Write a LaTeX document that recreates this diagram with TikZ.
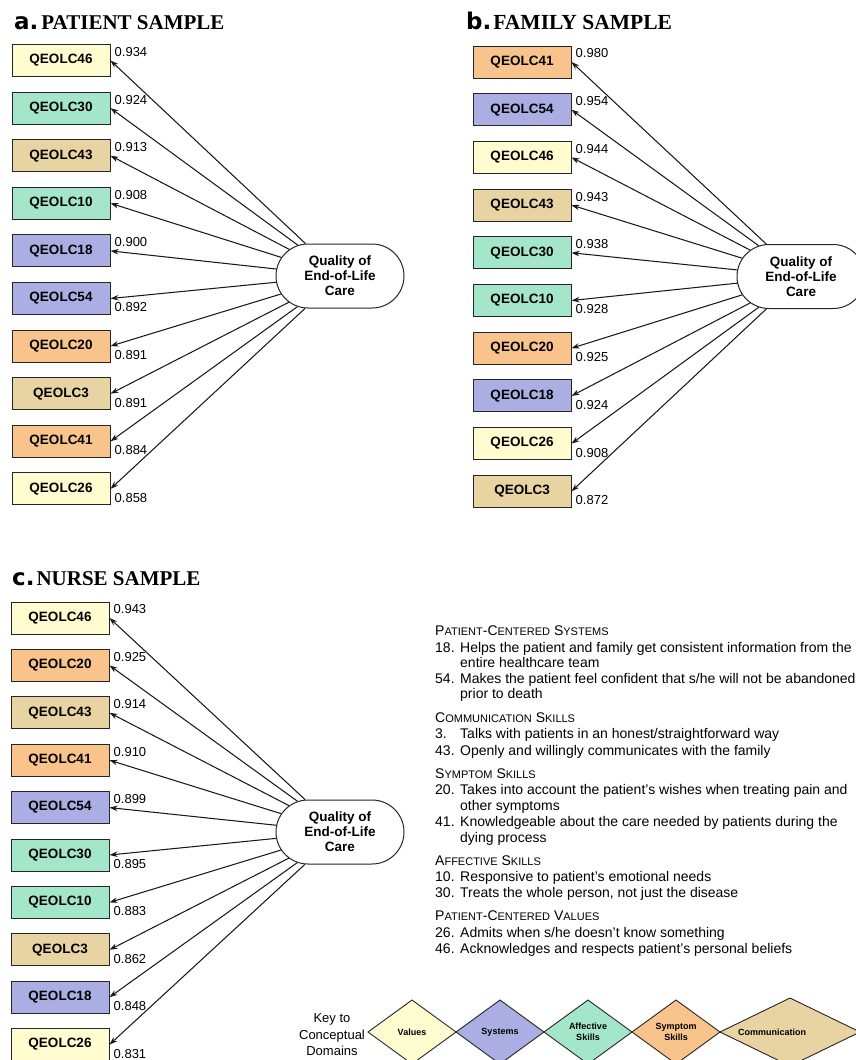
\documentclass[tikz,border=0pt]{standalone}
\usepackage{fontspec}
\setmainfont{Liberation Sans}
\newfontfamily\serifT{Liberation Serif}
\newfontfamily\sansT{DejaVu Sans}
\usetikzlibrary{shapes.misc,arrows.meta,calc}
\definecolor{valcol}{RGB}{255,252,208}
\definecolor{syscol}{RGB}{170,174,226}
\definecolor{affcol}{RGB}{164,230,202}
\definecolor{symcol}{RGB}{248,196,140}
\definecolor{comcol}{RGB}{232,212,162}
\newcommand\smcap[1]{{\fontsize{11}{12}\selectfont #1}}
\begin{document}
\begin{tikzpicture}[x=1pt,y=-1pt,
  itembox/.style={draw=black!85, line width=1pt, minimum width=98pt, minimum height=32pt, inner sep=0pt, font=\bfseries\fontsize{13.5}{15}\selectfont},
  latent/.style={draw=black!85, line width=1pt, rounded rectangle, minimum width=128pt, minimum height=64pt, inner sep=0pt, align=center, font=\bfseries\fontsize{13.5}{15}\selectfont, fill=white},
  arr/.style={line width=1.05pt, draw=black!90, -{Stealth[length=8pt,width=5.5pt]}},
  val/.style={font=\fontsize{13}{15}\selectfont, inner sep=0pt, anchor=west},
  leg/.style={font=\fontsize{14}{16}\selectfont, inner sep=0pt, anchor=base west},
  ttl/.style={inner sep=0pt, anchor=base west},
  dlab/.style={font=\bfseries\fontsize{9}{10.5}\selectfont, align=center, inner sep=0pt},
  dia/.style={draw=black!85, line width=0.9pt}
]
\useasboundingbox (0,0) rectangle (855,1060);

% titles
\node[ttl] (ta) at (14,29) {{\sansT\bfseries\fontsize{23}{24}\selectfont a.}\hspace{3pt}{\serifT\bfseries\fontsize{21}{22}\selectfont PATIENT SAMPLE}};
\node[ttl] (tb) at (466,29) {{\sansT\bfseries\fontsize{23}{24}\selectfont b.}\hspace{2pt}{\serifT\bfseries\fontsize{21.5}{22}\selectfont FAMILY SAMPLE}};
\node[ttl] (tc) at (12,585) {{\sansT\bfseries\fontsize{23}{24}\selectfont c.}\hspace{2pt}{\serifT\bfseries\fontsize{21}{22}\selectfont NURSE SAMPLE}};

% latent variables
\node[latent] (qa) at (340,276) {Quality of\\End-of-Life\\Care};
\node[latent] (qb) at (801,276.5) {Quality of\\End-of-Life\\Care};
\node[latent] (qc) at (340,832) {Quality of\\End-of-Life\\Care};

% panel a
\foreach \n/\c/\v [count=\i] in {46/valcol/0.934, 30/affcol/0.924, 43/comcol/0.913, 10/affcol/0.908, 18/syscol/0.900, 54/syscol/0.892, 20/symcol/0.891, 3/comcol/0.891, 41/symcol/0.884, 26/valcol/0.858}{
  \node[itembox, fill=\c] (a\i) at (61,{60.5+47.6*(\i-1)}) {QEOLC\n};
  \draw[arr] (qa) -- (a\i.east);
  \ifnum\i<6
    \node[val] (av\i) at ($(a\i.east)+(4,-8.5)$) {\v};
  \else
    \node[val] (av\i) at ($(a\i.east)+(4,9)$) {\v};
  \fi
}
% panel b
\foreach \n/\c/\v [count=\i] in {41/symcol/0.980, 54/syscol/0.954, 46/valcol/0.944, 43/comcol/0.943, 30/affcol/0.938, 10/affcol/0.928, 20/symcol/0.925, 18/syscol/0.924, 26/valcol/0.908, 3/comcol/0.872}{
  \node[itembox, fill=\c] (b\i) at (522,{62+47.7*(\i-1)}) {QEOLC\n};
  \draw[arr] (qb) -- (b\i.east);
  \ifnum\i<6
    \node[val] (bv\i) at ($(b\i.east)+(4,-8.5)$) {\v};
  \else
    \node[val] (bv\i) at ($(b\i.east)+(4,9)$) {\v};
  \fi
}
% panel c
\foreach \n/\c/\v [count=\i] in {46/valcol/0.943, 20/symcol/0.925, 43/comcol/0.914, 41/symcol/0.910, 54/syscol/0.899, 30/affcol/0.895, 10/affcol/0.883, 3/comcol/0.862, 18/syscol/0.848, 26/valcol/0.831}{
  \node[itembox, fill=\c] (c\i) at (60,{618+47.4*(\i-1)}) {QEOLC\n};
  \draw[arr] (qc) -- (c\i.east);
  \ifnum\i<6
    \node[val] (cv\i) at ($(c\i.east)+(4,-8.5)$) {\v};
  \else
    \node[val] (cv\i) at ($(c\i.east)+(4,9)$) {\v};
  \fi
}

% legend
\node[leg] (h1) at (435,635) {P\smcap{ATIENT}-C\smcap{ENTERED} S\smcap{YSTEMS}};
\node[leg] (n18) at (435,652) {18.};
\node[leg] (t18) at (460,652) {Helps the patient and family get consistent information from the};
\node[leg] (t18b) at (460,667) {entire healthcare team};
\node[leg] (n54) at (435,683) {54.};
\node[leg] (t54) at (460,683) {Makes the patient feel confident that s/he will not be abandoned};
\node[leg] (t54b) at (460,698) {prior to death};
\node[leg] (h2) at (435,722) {C\smcap{OMMUNICATION} S\smcap{KILLS}};
\node[leg] (n3) at (435,738) {3.};
\node[leg] (t3) at (460,738) {Talks with patients in an honest/straightforward way};
\node[leg] (n43) at (435,755) {43.};
\node[leg] (t43) at (460,755) {Openly and willingly communicates with the family};
\node[leg] (h3) at (435,778) {S\smcap{YMPTOM} S\smcap{KILLS}};
\node[leg] (n20) at (435,794) {20.};
\node[leg] (t20) at (460,794) {Takes into account the patient's wishes when treating pain and};
\node[leg] (t20b) at (460,810) {other symptoms};
\node[leg] (n41) at (435,826) {41.};
\node[leg] (t41) at (460,826) {Knowledgeable about the care needed by patients during the};
\node[leg] (t41b) at (460,842) {dying process};
\node[leg] (h4) at (435,865) {A\smcap{FFECTIVE} S\smcap{KILLS}};
\node[leg] (n10) at (435,881) {10.};
\node[leg] (t10) at (460,881) {Responsive to patient's emotional needs};
\node[leg] (n30) at (435,897) {30.};
\node[leg] (t30) at (460,897) {Treats the whole person, not just the disease};
\node[leg] (h5) at (435,920) {P\smcap{ATIENT}-C\smcap{ENTERED} V\smcap{ALUES}};
\node[leg] (n26) at (435,937) {26.};
\node[leg] (t26) at (460,937) {Admits when s/he doesn't know something};
\node[leg] (n46) at (435,953) {46.};
\node[leg] (t46) at (460,953) {Acknowledges and respects patient's personal beliefs};

% key
\node[align=center, font=\fontsize{13}{16.5}\selectfont, inner sep=0pt] (key) at (332,1035) {Key to\\Conceptual\\Domains};
\foreach \c/\t [count=\i] in {valcol/Values, syscol/Systems, affcol/{Affective\\Skills}, symcol/{Symptom\\Skills}}{
  \pgfmathsetmacro\cx{412+88*(\i-1)}
  \filldraw[dia, fill=\c] ({\cx-44},1032) -- (\cx,1000) -- ({\cx+44},1032) -- (\cx,1064) -- cycle;
  \node[dlab] (d\i) at (\cx,1032) {\t};
}
\filldraw[dia, fill=comcol] (720,1032) -- (790,998) -- (860,1032) -- (790,1066) -- cycle;
\node[dlab] (d5) at (772,1032) {Communication};
\end{tikzpicture}
\end{document}
